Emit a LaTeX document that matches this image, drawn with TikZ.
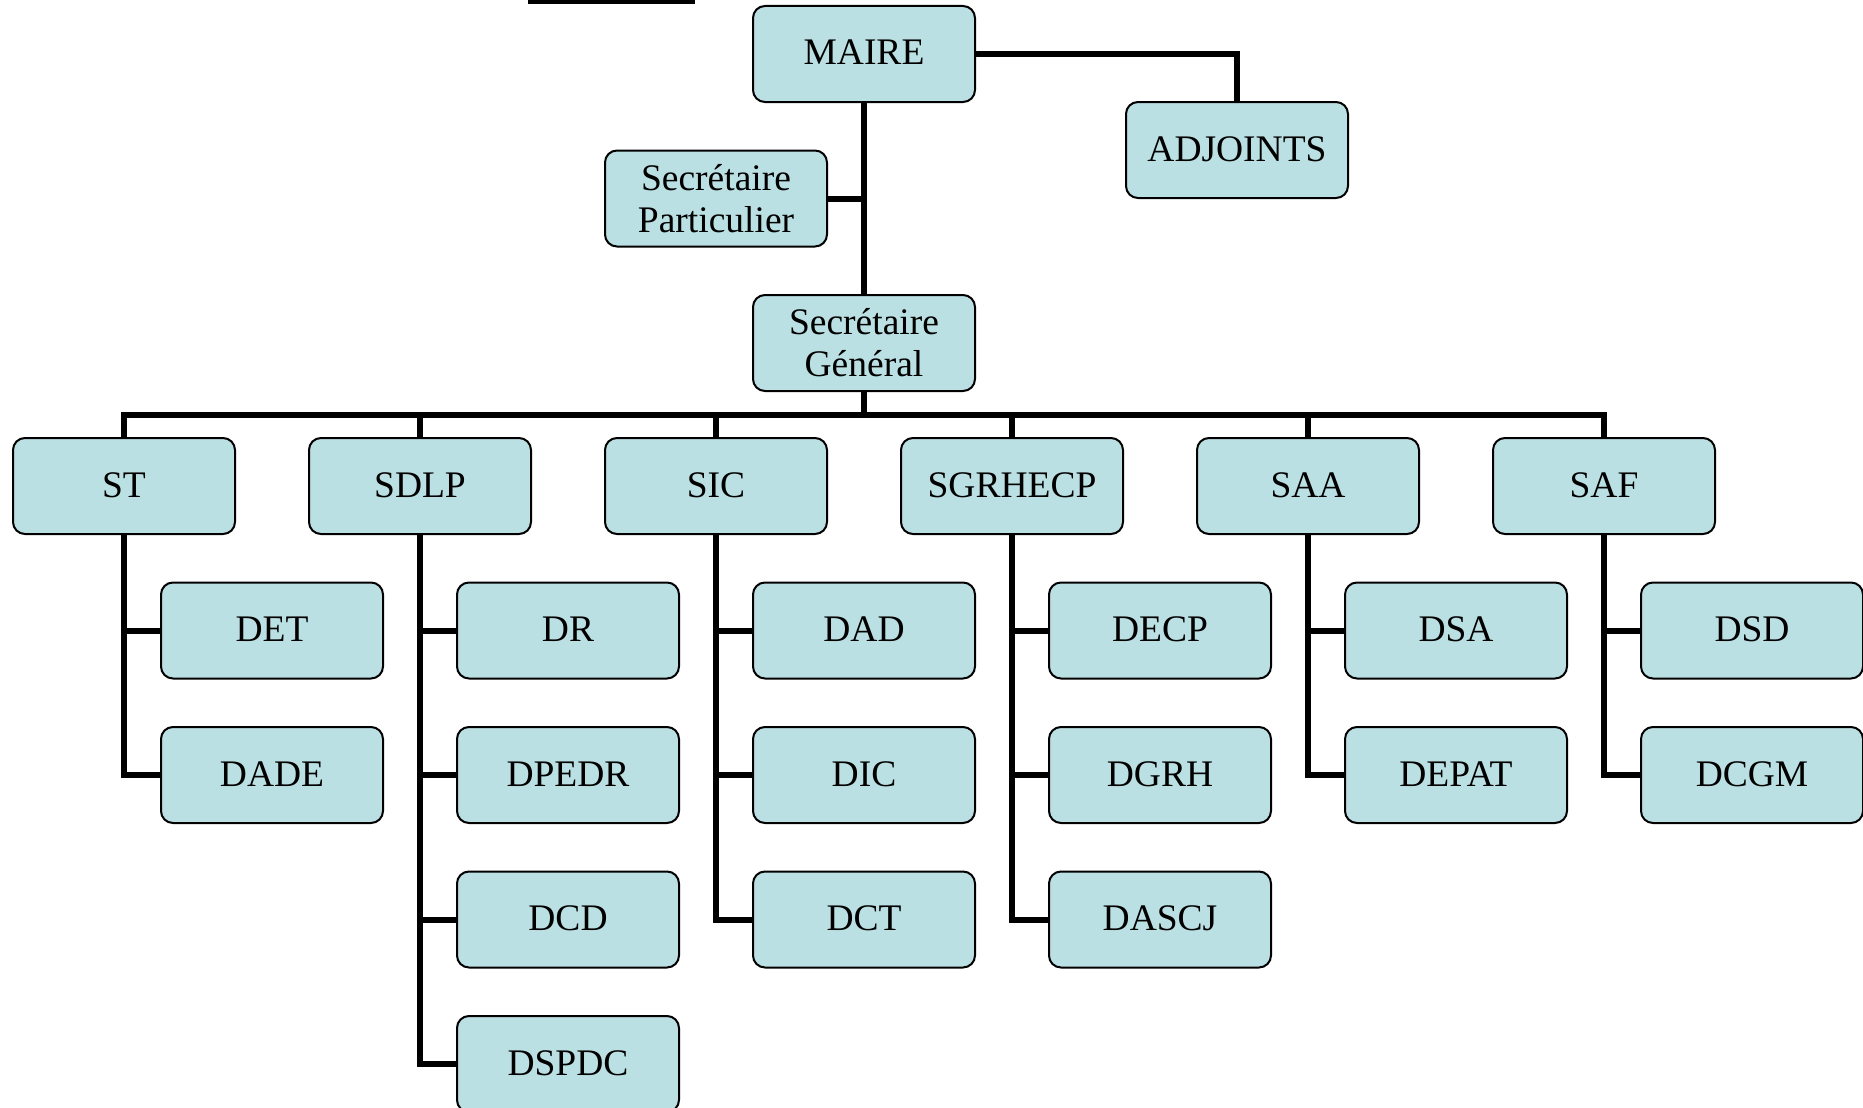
\documentclass[tikz,border=0pt]{standalone}
\usepackage{fontspec}
\setmainfont{Liberation Serif}
\definecolor{boxfill}{RGB}{187,224,227}
\begin{document}
\begin{tikzpicture}[x=1pt,y=-1pt,
  box/.style={draw=black,line width=2pt,fill=boxfill,rounded corners=12pt,
    minimum width=222pt,minimum height=96pt,inner sep=0pt,
    font=\fontsize{37.5}{42}\selectfont,align=center},
  one/.style={box,text height=26pt,text depth=4pt},
  conn/.style={line width=6pt,line join=miter}]
\useasboundingbox (0,0) rectangle (1863,1108);
\fill[black] (528,-2) rectangle (695,4);
% top
\node[one] (MAIRE) at (864,54) {MAIRE};
\node[one] (ADJ) at (1237,150) {ADJOINTS};
\node[box] (SP) at (716,198.5) {Secrétaire\\Particulier};
\node[box] (SG) at (864,343) {Secrétaire\\Général};
% level 2
\node[one] (ST) at (124,486) {ST};
\node[one] (SDLP) at (420,486) {SDLP};
\node[one] (SIC) at (716,486) {SIC};
\node[one] (SGR) at (1012,486) {SGRHECP};
\node[one] (SAA) at (1308,486) {SAA};
\node[one] (SAF) at (1604,486) {SAF};
% children
\node[one] (DET) at (272,630.5) {DET};
\node[one] (DADE) at (272,775) {DADE};
\node[one] (DR) at (568,630.5) {DR};
\node[one] (DPEDR) at (568,775) {DPEDR};
\node[one] (DCD) at (568,919.5) {DCD};
\node[one] (DSPDC) at (568,1064) {DSPDC};
\node[one] (DAD) at (864,630.5) {DAD};
\node[one] (DIC) at (864,775) {DIC};
\node[one] (DCT) at (864,919.5) {DCT};
\node[one] (DECP) at (1160,630.5) {DECP};
\node[one] (DGRH) at (1160,775) {DGRH};
\node[one] (DASCJ) at (1160,919.5) {DASCJ};
\node[one] (DSA) at (1456,630.5) {DSA};
\node[one] (DEPAT) at (1456,775) {DEPAT};
\node[one] (DSD) at (1752,630.5) {DSD};
\node[one] (DCGM) at (1752,775) {DCGM};
\coordinate (bus) at (864,415);
% connectors
\draw[conn] (MAIRE.south) -- (SG.north);
\draw[conn] (SP.east) -- (SP.east -| MAIRE.south);
\draw[conn] (MAIRE.east) -| (ADJ.north);
\draw[conn] (SG.south) -- (bus);
\draw[conn] (ST.north) -- (ST.north |- bus) -- (SAF.north |- bus) -- (SAF.north);
\foreach \n in {SDLP,SIC,SGR,SAA} \draw[conn] (\n.north) -- (\n.north |- bus);
% ST
\draw[conn] (ST.south) |- (DADE.west);
\draw[conn] (ST.south |- DET.west) -- (DET.west);
% SDLP
\draw[conn] (SDLP.south) |- (DSPDC.west);
\foreach \n in {DR,DPEDR,DCD} \draw[conn] (SDLP.south |- \n.west) -- (\n.west);
% SIC
\draw[conn] (SIC.south) |- (DCT.west);
\foreach \n in {DAD,DIC} \draw[conn] (SIC.south |- \n.west) -- (\n.west);
% SGR
\draw[conn] (SGR.south) |- (DASCJ.west);
\foreach \n in {DECP,DGRH} \draw[conn] (SGR.south |- \n.west) -- (\n.west);
% SAA
\draw[conn] (SAA.south) |- (DEPAT.west);
\draw[conn] (SAA.south |- DSA.west) -- (DSA.west);
% SAF
\draw[conn] (SAF.south) |- (DCGM.west);
\draw[conn] (SAF.south |- DSD.west) -- (DSD.west);
\end{tikzpicture}
\end{document}
